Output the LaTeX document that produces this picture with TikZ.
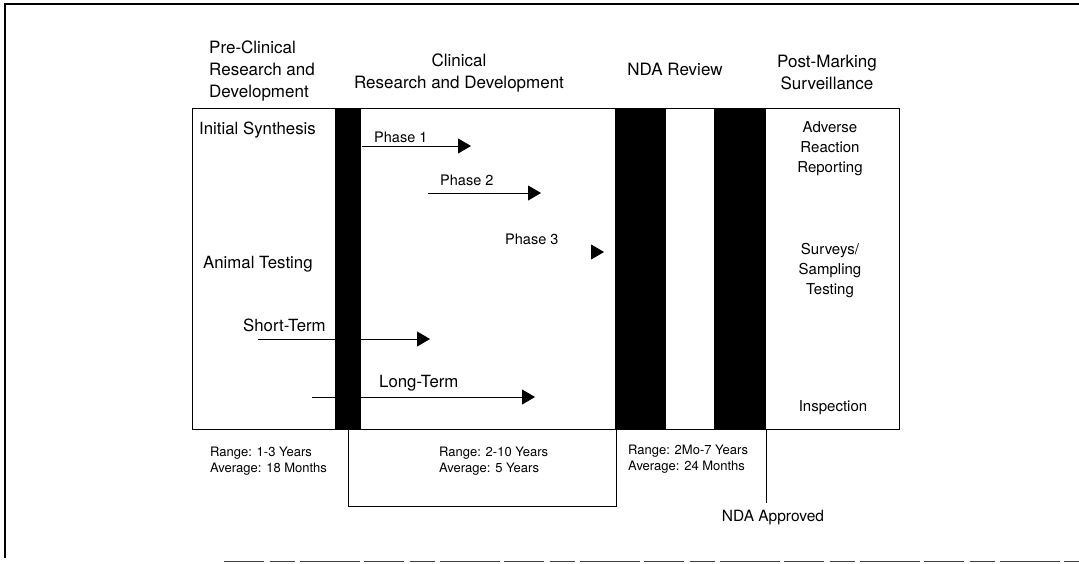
\documentclass[tikz,border=0pt]{standalone}
\usepackage{fontspec}
\setmainfont{TeX Gyre Heros}
\usetikzlibrary{arrows.meta}
\begin{document}
\begin{tikzpicture}[x=1pt,y=-1pt,
  head/.style={inner sep=0pt, font=\fontsize{17}{22}\selectfont},
  big/.style={inner sep=0pt, font=\fontsize{16.8}{20}\selectfont},
  phase/.style={inner sep=0pt, font=\fontsize{14.5}{18}\selectfont},
  side/.style={inner sep=0pt, align=center, font=\fontsize{15}{20}\selectfont},
  small/.style={inner sep=0pt, align=left, font=\fontsize{13}{16}\selectfont},
  bar/.style={fill=black},
  frame/.style={line width=1pt},
  arr/.style={line width=0.9pt, -{Triangle[length=13pt,width=15pt]}}
]
\useasboundingbox (0,0) rectangle (1079,563);
% outer frame (scan border)
\draw[line width=1.6pt] (1079,4) -- (5,4) -- (5,558);
\draw[line width=1pt, black!75, dash pattern=on 40pt off 6pt on 25pt off 5pt on 60pt off 4pt] (224,561) -- (1079,561);

% coordinates
\coordinate (p1s) at (362,146);  \coordinate (p1e) at (471,146);
\coordinate (p2s) at (428,193);  \coordinate (p2e) at (541,193);
\coordinate (p3s) at (591,252);  \coordinate (p3e) at (604,252);
\coordinate (sts) at (258,339);  \coordinate (ste) at (430,339);
\coordinate (lts) at (312,397);  \coordinate (lte) at (535,397);

% arrows (behind bars)
\draw[arr] (p1s) -- (p1e);
\draw[arr] (p2s) -- (p2e);
\draw[arr] (p3s) -- (p3e);
\draw[arr] (sts) -- (ste);
\draw[arr] (lts) -- (lte);

% main box
\draw[frame] (192,108) rectangle (899,429);
% bars
\fill[bar] (335,108) rectangle (361,430);
\fill[bar] (615,108) rectangle (666,430);
\fill[bar] (714,108) rectangle (766,430);
% lower boxes
\draw[frame] (348,430) -- (348,506) -- (616,506) -- (616,430);
\draw[frame] (766,430) -- (766,503);

% headings
\node[head, anchor=west, align=left] (pre) at (209,71) {Pre-Clinical\\Research and\\Development};
\node[head, align=center] (clin) at (459,73) {Clinical\\Research and Development};
\node[head] (nda) at (675,69) {NDA Review};
\node[head, align=center] (post) at (827,72) {Post-Marking\\Surveillance};

% inside
\node[big, anchor=west] (init) at (199,130) {Initial Synthesis};
\node[big, anchor=west] (animal) at (203,264) {Animal Testing};
\node[phase, anchor=west] (ph1) at (374,137) {Phase 1};
\node[phase, anchor=west] (ph2) at (440,180) {Phase 2};
\node[phase, anchor=west] (ph3) at (505,239) {Phase 3};
\node[big, anchor=west] (short) at (243,325) {Short-Term};
\node[big, anchor=west] (long) at (379,383) {Long-Term};
\node[side] (adv) at (830,149) {Adverse\\Reaction\\Reporting};
\node[side] (surv) at (830,271) {Surveys/\\Sampling\\Testing};
\node[side] (insp) at (833,408) {Inspection};

% ranges
\node[small, anchor=west] (r1) at (210,461) {Range: 1-3 Years\\Average: 18 Months};
\node[small, anchor=west] (r2) at (439,461) {Range: 2-10 Years\\Average: 5 Years};
\node[small, anchor=west] (r3) at (628,459) {Range: 2Mo-7 Years\\Average: 24 Months};
\node[inner sep=0pt, font=\fontsize{15.5}{18}\selectfont] (appr) at (773,518) {NDA Approved};
\end{tikzpicture}
\end{document}
